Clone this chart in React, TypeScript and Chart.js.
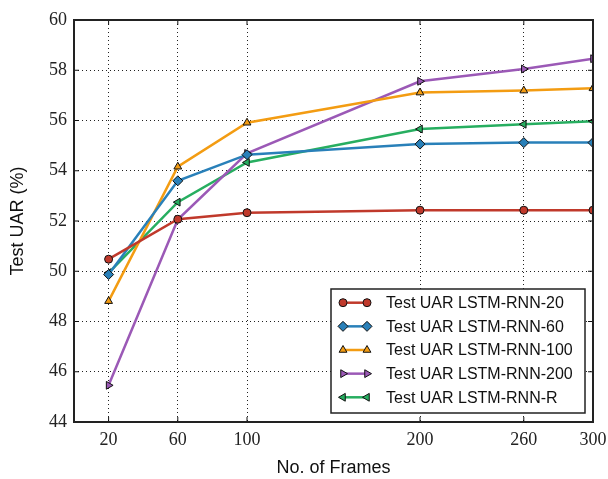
import React, { useEffect, useRef } from "react";
import { Chart, registerables } from "chart.js";

Chart.register(...registerables);

const frames = [20, 60, 100, 200, 260, 300];
const xTicks = [20, 60, 100, 200, 260, 300];
const uar20 = [50.48, 52.07, 52.33, 52.43, 52.43, 52.43];
const uar60 = [49.87, 53.6, 54.64, 55.06, 55.12, 55.12];
const uar100 = [48.81, 54.16, 55.91, 57.11, 57.19, 57.28];
const uar200 = [45.46, 52.06, 54.69, 57.56, 58.05, 58.46];
const uarR = [49.94, 52.75, 54.33, 55.66, 55.85, 55.97];

const seriesNames = [
  "Test UAR LSTM-RNN-20",
  "Test UAR LSTM-RNN-60",
  "Test UAR LSTM-RNN-100",
  "Test UAR LSTM-RNN-200",
  "Test UAR LSTM-RNN-R",
];
const seriesValues = [uar20, uar60, uar100, uar200, uarR];
const seriesColors = ["#c0392b", "#2980b9", "#f39c12", "#9b59b6", "#27ae60"];
const seriesMarkers = ["circle", "rectRot", "triangle", "triangle", "triangle"];
const seriesRotations = [0, 0, 0, 90, 270];
const seriesRadius = [4, 5, 4.5, 4.5, 4.5];

function drawMarker(ctx: CanvasRenderingContext2D, style: string, x: number, y: number, r: number, rotDeg: number, fill: string) {
  ctx.save();
  ctx.beginPath();
  if (style === "circle") {
    ctx.arc(x, y, r, 0, Math.PI * 2);
  } else if (style === "rectRot") {
    ctx.moveTo(x, y - r);
    ctx.lineTo(x + r, y);
    ctx.lineTo(x, y + r);
    ctx.lineTo(x - r, y);
    ctx.closePath();
  } else {
    let rad = (rotDeg * Math.PI) / 180;
    ctx.moveTo(x + Math.sin(rad) * r, y - Math.cos(rad) * r);
    rad += (2 * Math.PI) / 3;
    ctx.lineTo(x + Math.sin(rad) * r, y - Math.cos(rad) * r);
    rad += (2 * Math.PI) / 3;
    ctx.lineTo(x + Math.sin(rad) * r, y - Math.cos(rad) * r);
    ctx.closePath();
  }
  ctx.fillStyle = fill;
  ctx.fill();
  ctx.lineWidth = 1;
  ctx.strokeStyle = "#111";
  ctx.stroke();
  ctx.restore();
}

const framePlugin = {
  id: "framePlugin",
  afterDatasetsDraw(chart: any) {
    const { ctx, chartArea } = chart;
    const { left, right, top, bottom } = chartArea;
    ctx.save();
    ctx.strokeStyle = "#111";
    ctx.lineWidth = 1;
    const xs = chart.scales.x;
    const ys = chart.scales.y;
    const tl = 5;
    ctx.beginPath();
    xs.ticks.forEach((t: any) => {
      const px = xs.getPixelForValue(t.value);
      ctx.moveTo(px, bottom);
      ctx.lineTo(px, bottom - tl);
      ctx.moveTo(px, top);
      ctx.lineTo(px, top + tl);
    });
    ys.ticks.forEach((t: any) => {
      const py = ys.getPixelForValue(t.value);
      ctx.moveTo(left, py);
      ctx.lineTo(left + tl, py);
      ctx.moveTo(right, py);
      ctx.lineTo(right - tl, py);
    });
    ctx.stroke();
    ctx.lineWidth = 2;
    ctx.strokeStyle = "#222";
    ctx.strokeRect(left, top, right - left, bottom - top);
    ctx.restore();
  },
  afterDraw(chart: any) {
    const { ctx } = chart;
    const bx = 331, by = 289, bw = 254, bh = 124;
    ctx.save();
    ctx.fillStyle = "#fff";
    ctx.fillRect(bx, by, bw, bh);
    ctx.lineWidth = 1.5;
    ctx.strokeStyle = "#222";
    ctx.strokeRect(bx, by, bw, bh);
    ctx.font = "16px 'Liberation Sans', Arial, sans-serif";
    ctx.textBaseline = "middle";
    ctx.textAlign = "left";
    seriesNames.forEach((name, i) => {
      const cy = by + 13.7 + i * 23.65;
      ctx.beginPath();
      ctx.strokeStyle = seriesColors[i];
      ctx.lineWidth = 2.5;
      ctx.moveTo(343, cy);
      ctx.lineTo(367, cy);
      ctx.stroke();
      drawMarker(ctx, seriesMarkers[i], 343, cy, seriesRadius[i], seriesRotations[i], seriesColors[i]);
      drawMarker(ctx, seriesMarkers[i], 367, cy, seriesRadius[i], seriesRotations[i], seriesColors[i]);
      ctx.fillStyle = "#111";
      ctx.fillText(name, 386, cy + 1);
    });
    ctx.restore();
  },
};

export default function App() {
  const ref = useRef<HTMLCanvasElement | null>(null);
  useEffect(() => {
    if (!ref.current) return;
    const datasets = seriesNames.map((name, i) => ({
      label: name,
      data: frames.map((f, j) => ({ x: f, y: seriesValues[i][j] })),
      borderColor: seriesColors[i],
      backgroundColor: seriesColors[i],
      pointBackgroundColor: seriesColors[i],
      pointBorderColor: "#111",
      pointBorderWidth: 1,
      pointStyle: seriesMarkers[i] as any,
      pointRotation: seriesRotations[i],
      pointRadius: seriesRadius[i],
      borderWidth: 2.5,
      tension: 0,
      clip: 0,
    }));
    const serif = "'Liberation Serif', 'Times New Roman', serif";
    const sans = "'Liberation Sans', Arial, sans-serif";
    const chart = new Chart(ref.current, {
      type: "line",
      data: { datasets },
      options: {
        animation: false,
        responsive: false,
        devicePixelRatio: 1,
        layout: { autoPadding: false, padding: { top: 20, right: 15, left: 0, bottom: 0 } },
        plugins: { legend: { display: false }, tooltip: { enabled: false } },
        scales: {
          x: {
            type: "linear",
            min: 0,
            max: 300,
            afterBuildTicks: (scale: any) => {
              scale.ticks = xTicks.map((v) => ({ value: v }));
            },
            afterFit: (scale: any) => {
              scale.height = 57;
              scale.paddingLeft = 0;
              scale.paddingRight = 0;
            },
            ticks: {
              font: { family: serif, size: 18 },
              color: "#222",
              padding: 7,
              maxRotation: 0,
              autoSkip: false,
              callback: (v: any) => String(v),
            },
            grid: { color: "#222", lineWidth: 1, drawTicks: false },
            border: { display: false, dash: [1, 3] },
            title: {
              display: true,
              text: "No. of Frames",
              font: { family: sans, size: 18 },
              color: "#111",
              padding: { top: 0, bottom: 0 },
            },
          },
          y: {
            min: 44,
            max: 60,
            ticks: {
              stepSize: 2,
              font: { family: serif, size: 18 },
              color: "#222",
              padding: 7,
            },
            afterFit: (scale: any) => {
              scale.width = 74;
              scale.paddingTop = 0;
              scale.paddingBottom = 0;
            },
            grid: { color: "#222", lineWidth: 1, drawTicks: false },
            border: { display: false, dash: [1, 3] },
            title: {
              display: true,
              text: "Test UAR (%)",
              font: { family: sans, size: 18 },
              color: "#111",
              padding: { top: 7, bottom: 0 },
            },
          },
        },
      },
      plugins: [framePlugin],
    });
    return () => chart.destroy();
  }, []);
  return (
    <div style={{ position: "fixed", left: 0, top: 0, width: 608, height: 479, background: "#fff" }}>
      <canvas ref={ref} width={608} height={479} style={{ width: 608, height: 479, display: "block" }} />
    </div>
  );
}
